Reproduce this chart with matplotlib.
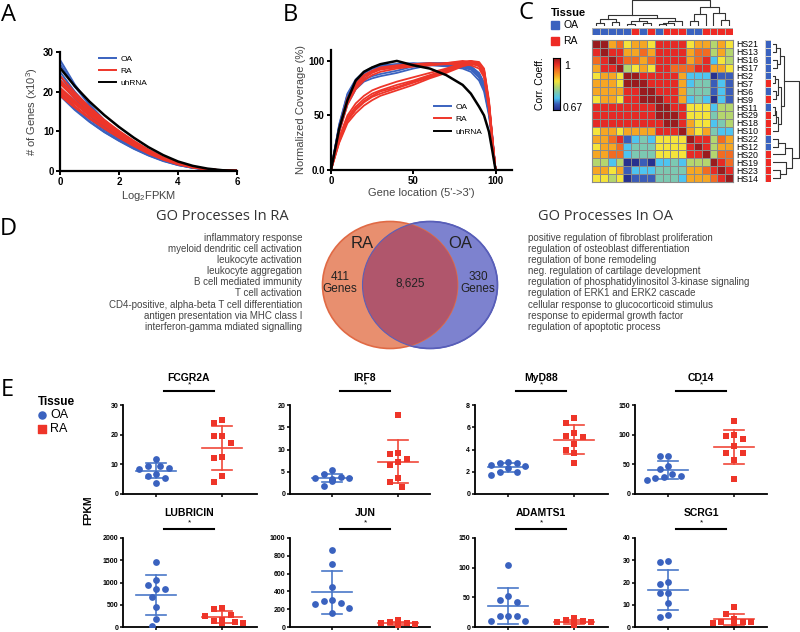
import numpy as np
import matplotlib
matplotlib.use("Agg")
import matplotlib.pyplot as plt
from matplotlib.patches import Ellipse, Rectangle
from matplotlib.lines import Line2D
from matplotlib.colors import ListedColormap, BoundaryNorm, LinearSegmentedColormap

plt.rcParams["font.family"] = ["Liberation Sans", "DejaVu Sans"]
plt.rcParams["mathtext.default"] = "regular"

W, H = 800, 632

OA_BLUE = "#3a62bf"
RA_RED = "#ee3529"

# ---------------- panel A: genes above FPKM threshold
fpkm_x = [0, 0.5, 1, 1.5, 2, 2.5, 3, 3.5, 4, 4.5, 5, 5.5, 6]
oa_genes = [
    [28, 21.8, 16.8, 12.8, 9.6, 6.9, 4.7, 3.0, 1.7, 0.9, 0.4, 0.15, 0.05],
    [27, 21.3, 16.6, 12.8, 9.7, 7.0, 4.8, 3.1, 1.8, 0.9, 0.4, 0.15, 0.05],
    [25, 20.0, 15.8, 12.3, 9.4, 6.9, 4.8, 3.1, 1.8, 0.9, 0.4, 0.15, 0.05],
    [24, 19.2, 15.2, 11.9, 9.1, 6.7, 4.6, 3.0, 1.7, 0.9, 0.4, 0.15, 0.05],
    [22.5, 18.2, 14.6, 11.5, 8.9, 6.6, 4.6, 2.9, 1.7, 0.9, 0.4, 0.15, 0.05],
    [21, 17.2, 13.9, 11.0, 8.6, 6.4, 4.5, 2.9, 1.7, 0.9, 0.4, 0.15, 0.05],
    [20, 16.3, 13.1, 10.4, 8.1, 6.0, 4.2, 2.7, 1.6, 0.8, 0.4, 0.15, 0.05],
    [19.5, 15.7, 12.5, 9.9, 7.7, 5.7, 4.0, 2.6, 1.5, 0.8, 0.4, 0.15, 0.05],
    [19, 15.4, 12.4, 9.8, 7.6, 5.6, 3.9, 2.5, 1.5, 0.8, 0.35, 0.15, 0.05],
]
ra_genes = [
    [24, 19.8, 16.1, 12.9, 10.1, 7.6, 5.3, 3.4, 2.0, 1.0, 0.45, 0.15, 0.05],
    [23, 19.2, 15.8, 12.7, 10.0, 7.5, 5.3, 3.4, 2.0, 1.0, 0.45, 0.15, 0.05],
    [22.5, 18.7, 15.3, 12.3, 9.6, 7.2, 5.1, 3.3, 1.9, 1.0, 0.45, 0.15, 0.05],
    [22, 18.4, 15.1, 12.2, 9.6, 7.2, 5.1, 3.3, 1.9, 1.0, 0.45, 0.15, 0.05],
    [21, 17.7, 14.6, 11.8, 9.3, 7.0, 4.9, 3.2, 1.9, 1.0, 0.45, 0.15, 0.05],
    [20.5, 17.3, 14.3, 11.6, 9.2, 6.9, 4.9, 3.2, 1.9, 1.0, 0.45, 0.15, 0.05],
    [20, 16.9, 14.0, 11.4, 9.0, 6.8, 4.8, 3.1, 1.8, 0.9, 0.4, 0.15, 0.05],
    [19.5, 16.3, 13.4, 10.8, 8.5, 6.4, 4.5, 2.9, 1.7, 0.9, 0.4, 0.15, 0.05],
    [19, 16.0, 13.2, 10.7, 8.4, 6.3, 4.4, 2.9, 1.7, 0.9, 0.4, 0.15, 0.05],
]
uh_genes = [26, 21.4, 17.5, 14.1, 11.1, 8.4, 6.0, 4.0, 2.4, 1.3, 0.6, 0.2, 0.05]

# ---------------- panel B: gene body coverage
loc_x = [0, 5, 10, 15, 20, 25, 30, 40, 50, 60, 70, 80, 85, 90, 93, 96, 98, 100]
oa_cov = [
    [0, 42, 70, 83, 90, 94, 96, 97, 98, 97, 97, 96, 94, 87, 78, 55, 30, 0],
    [0, 40, 68, 82, 89, 93, 95, 97, 97, 98, 97, 95, 93, 85, 75, 52, 28, 0],
    [0, 38, 65, 79, 86, 90, 93, 96, 97, 98, 98, 97, 95, 88, 79, 58, 32, 0],
    [0, 36, 62, 76, 83, 86, 88, 91, 95, 97, 98, 97, 95, 89, 80, 57, 31, 0],
    [0, 35, 60, 74, 81, 84, 86, 89, 93, 96, 97, 96, 94, 88, 78, 54, 29, 0],
    [0, 41, 69, 82, 89, 93, 95, 96, 96, 96, 95, 93, 90, 82, 72, 50, 27, 0],
    [0, 39, 66, 80, 87, 91, 94, 96, 97, 97, 96, 94, 92, 85, 76, 53, 28, 0],
]
ra_cov = [
    [0, 37, 64, 78, 86, 90, 93, 95, 96, 97, 98, 99, 100, 97, 90, 62, 30, 0],
    [0, 36, 62, 76, 84, 89, 92, 94, 95, 96, 98, 100, 99, 96, 88, 60, 28, 0],
    [0, 35, 60, 74, 82, 87, 90, 93, 95, 96, 97, 99, 98, 95, 87, 58, 27, 0],
    [0, 38, 66, 79, 87, 91, 94, 96, 97, 98, 97, 97, 96, 93, 85, 56, 26, 0],
    [0, 28, 48, 58, 65, 70, 73, 78, 82, 87, 92, 97, 99, 98, 92, 62, 30, 0],
    [0, 26, 45, 55, 62, 67, 70, 75, 80, 85, 90, 96, 98, 97, 90, 60, 28, 0],
    [0, 25, 43, 52, 59, 64, 68, 73, 78, 84, 89, 95, 97, 96, 89, 58, 27, 0],
    [0, 30, 50, 61, 68, 73, 76, 81, 85, 89, 93, 98, 100, 99, 93, 64, 31, 0],
    [0, 27, 46, 56, 63, 68, 72, 76, 81, 86, 91, 96, 98, 97, 91, 61, 29, 0],
]
uh_cov = [0, 38, 64, 82, 90, 94, 97, 100, 96, 93, 87, 78, 70, 58, 50, 35, 18, 0]

# ---------------- panel C: sample correlation heatmap
samples = ["HS21", "HS13", "HS16", "HS17", "HS2", "HS7", "HS6", "HS9", "HS11",
           "HS29", "HS18", "HS10", "HS22", "HS12", "HS20", "HS19", "HS23", "HS14"]
sample_tissue = ["OA", "OA", "OA", "OA", "OA", "RA", "OA", "RA", "OA",
                 "RA", "RA", "RA", "OA", "OA", "RA", "RA", "RA", "RA"]
# colour level read per cell (0 = 0.67 ... 9 = 1)
corr_levels = [
    "996756658888566465",
    "898866768888677464",
    "789877678888678254",
    "688945658877788665",
    "566599888886222011",
    "666599988886233121",
    "666688998886333121",
    "566588999886232021",
    "888888889988555244",
    "888888889998555344",
    "888888888998655234",
    "566566668889656322",
    "667812325555988476",
    "566723335555898466",
    "667723335555889477",
    "442400102232444987",
    "665612223333667898",
    "554501113332666789",
]
level_colors = ["#27318f", "#3a5cb8", "#4ec4f0", "#7cc9b2", "#b4d66e",
                "#f5e43a", "#f6a623", "#f26b22", "#e52a25", "#9a1b1e"]
# dendrogram: [height, left, right], leaves are row indices
cluster_tree = [1.0,
                [0.42, [0.26, [0.12, 0, 1], [0.16, 2, 3]],
                 [0.32, [0.18, [0.08, 4, 5], [0.1, 6, 7]],
                  [0.2, [0.12, [0.06, 8, 9], 10], 11]]],
                [0.72, [0.45, [0.2, 12, 13], 14], [0.5, 15, [0.25, 16, 17]]]]

# ---------------- panel D: Venn + GO terms
venn_ra_only, venn_both, venn_oa_only = 411, 8625, 330
go_ra = ["inflammatory response", "myeloid dendritic cell activation",
         "leukocyte activation", "leukocyte aggregation", "B cell mediated immunity",
         "T cell activation", "CD4-positive, alpha-beta T cell differentiation",
         "antigen presentation via MHC class I", "interferon-gamma mdiated signalling"]
go_oa = ["positive regulation of fibroblast proliferation",
         "regulation of osteoblast differentiation", "regulation of bone remodeling",
         "neg. regulation of cartilage development",
         "regulation of phosphatidylinositol 3-kinase signaling",
         "regulation of ERK1 and ERK2 cascade",
         "cellular response to glucocorticoid stimulus",
         "response to epidermal growth factor", "regulation of apoptotic process"]

# ---------------- panel E: FPKM per gene
gene_names = ["FCGR2A", "IRF8", "MyD88", "CD14", "LUBRICIN", "JUN", "ADAMTS1", "SCRG1"]
gene_ymax = [30, 20, 8, 150, 2000, 1000, 150, 40]
gene_ystep = [10, 5, 2, 50, 500, 200, 50, 10]
oa_fpkm = [
    [8.9, 9.6, 11.8, 9.3, 6.8, 5.9, 8.5, 5.5, 3.6],
    [4.5, 3.2, 3.7, 3.8, 5.3, 1.9, 3.0, 3.4, 3.6],
    [2.8, 2.6, 2.5, 2.75, 2.9, 2.0, 1.75, 1.95, 2.3],
    [64, 64, 48, 34, 29, 23, 27, 31, 42],
    [1457, 1057, 936, 860, 853, 679, 453, 189, 15],
    [861, 712, 449, 300, 273, 255, 213, 288, 157],
    [105, 46, 42, 52, 19, 18, 10, 10, 19],
    [29.1, 29.6, 20.4, 19.2, 15.1, 15.5, 10.6, 4.5, 5.3],
]
ra_fpkm = [
    [24.8, 23.8, 19.5, 19.5, 17.1, 12.5, 12.1, 5.9, 4.2],
    [17.8, 9.3, 9.0, 7.9, 7.2, 6.5, 3.5, 2.6, 1.6],
    [6.85, 6.4, 5.5, 5.15, 5.25, 4.45, 4.0, 3.65, 2.75],
    [123, 100, 93, 97, 81, 69, 69, 58, 25],
    [408, 438, 279, 166, 249, 113, 98, 98, 128],
    [75, 56, 45, 40, 35, 30, 28, 25, 22],
    [15, 12, 10, 9, 8, 7, 5, 4, 3],
    [9.1, 6.0, 3.8, 2.0, 2.0, 2.3, 2.0, 2.4, 2.3],
]

fig = plt.figure(figsize=(W / 100, H / 100), dpi=100)


def px_axes(l, t, r, b):
    return fig.add_axes([l / W, 1 - b / H, (r - l) / W, (b - t) / H])


# overlay in pixel coordinates for free text, Venn and legends
ov = px_axes(0, 0, W, H)
ov.set_xlim(0, W)
ov.set_ylim(H, 0)
ov.axis("off")

letter_font = dict(family=["Open Sans", "DejaVu Sans"], fontsize=17, va="center", ha="left")
ov.text(1, 15, "A", **letter_font)
ov.text(283, 15, "B", **letter_font)
ov.text(518, 13, "C", **letter_font)
ov.text(0, 229, "D", **letter_font)
ov.text(1, 390, "E", **letter_font)


def style_line_axes(ax):
    for s in ["top", "right"]:
        ax.spines[s].set_visible(False)
    for s in ["left", "bottom"]:
        ax.spines[s].set_linewidth(1.6)
    ax.tick_params(width=1.4, length=3, labelsize=7, pad=1.5)
    for lab in ax.get_xticklabels() + ax.get_yticklabels():
        lab.set_fontweight("bold")


# ---- A
axA = px_axes(60, 52, 237, 171)
for ys in oa_genes:
    axA.plot(fpkm_x, ys, color=OA_BLUE, lw=1.4)
for ys in ra_genes:
    axA.plot(fpkm_x, ys, color=RA_RED, lw=1.4)
axA.plot(fpkm_x, uh_genes, color="black", lw=1.8)
axA.set_xlim(0, 6)
axA.set_ylim(0, 30)
axA.set_xticks([0, 2, 4, 6])
axA.set_yticks([0, 10, 20, 30])
axA.set_xlabel("Log$_2$FPKM", fontsize=8, color="#444444", labelpad=1)
axA.set_ylabel("# of Genes (x10$^3$)", fontsize=8, color="#444444", labelpad=2)
style_line_axes(axA)
hA = [Line2D([], [], color=OA_BLUE, lw=1.4), Line2D([], [], color=RA_RED, lw=1.4),
      Line2D([], [], color="black", lw=1.4)]
axA.legend(hA, ["OA", "RA", "uhRNA"], loc="upper left", bbox_to_anchor=(0.18, 1.04),
           frameon=False, fontsize=6, handlelength=2.0, labelspacing=0.55, handletextpad=0.5)

# ---- B
axB = px_axes(331, 50, 512, 170)
for ys in oa_cov:
    axB.plot(loc_x, ys, color=OA_BLUE, lw=1.3)
for ys in ra_cov:
    axB.plot(loc_x, ys, color=RA_RED, lw=1.3)
axB.plot(loc_x, uh_cov, color="black", lw=1.8)
axB.set_xlim(0, 110)
axB.set_ylim(0, 110)
axB.set_xticks([0, 50, 100])
axB.set_yticks([0, 50, 100])
axB.set_yticklabels(["0.0", "50", "100"])
axB.set_xlabel("Gene location (5'->3')", fontsize=8, color="#444444", labelpad=1)
axB.set_ylabel("Normalized Coverage (%)", fontsize=8, color="#444444", labelpad=2)
style_line_axes(axB)
axB.legend(hA, ["OA", "RA", "uhRNA"], loc="upper left", bbox_to_anchor=(0.53, 0.62),
           frameon=False, fontsize=6, handlelength=2.0, labelspacing=0.55, handletextpad=0.5)

# ---- C heatmap
levels = np.array([[int(c) for c in row] for row in corr_levels])
n = len(samples)
cmap_lv = ListedColormap(level_colors)
norm_lv = BoundaryNorm(np.arange(-0.5, 10.5, 1), cmap_lv.N)
tissue_idx = np.array([[0 if t == "OA" else 1 for t in sample_tissue]])
tissue_cmap = ListedColormap([OA_BLUE, "#ee2a24"])

axC = px_axes(592, 40, 733, 182)
axC.pcolormesh(levels, cmap=cmap_lv, norm=norm_lv, edgecolors="#8a8a8a", linewidth=0.7)
axC.set_xlim(0, n)
axC.set_ylim(n, 0)
axC.set_xticks([])
axC.yaxis.tick_right()
axC.set_yticks(np.arange(n) + 0.5)
axC.set_yticklabels(samples, fontsize=6.3)
axC.tick_params(length=0, pad=2)
for s in axC.spines.values():
    s.set_color("#8a8a8a")

axCt = px_axes(592, 28, 733, 35)
axCt.pcolormesh(tissue_idx, cmap=tissue_cmap, edgecolors="#b0b0b0", linewidth=0.5)
axCt.set_xlim(0, n)
axCt.axis("off")

axCs = px_axes(765, 40, 771, 182)
axCs.pcolormesh(tissue_idx.T, cmap=tissue_cmap, edgecolors="#d0d0d0", linewidth=0.4)
axCs.set_ylim(n, 0)
axCs.axis("off")


def draw_tree(ax, node, side):
    if isinstance(node, int):
        return node + 0.5, 0.0
    h, left, right = node
    pl, hl = draw_tree(ax, left, side)
    pr, hr = draw_tree(ax, right, side)
    pos = [pl, pl, pr, pr]
    hts = [hl, h, h, hr]
    if side == "top":
        ax.plot(pos, hts, color="#333333", lw=0.8)
    else:
        ax.plot(hts, pos, color="#333333", lw=0.8)
    return (pl + pr) / 2, h


axDt = px_axes(592, 0, 733, 26)
draw_tree(axDt, cluster_tree, "top")
axDt.set_xlim(0, n)
axDt.set_ylim(0, 1.0)
axDt.axis("off")

axDs = px_axes(773, 40, 800, 182)
draw_tree(axDs, cluster_tree, "side")
axDs.set_ylim(n, 0)
axDs.set_xlim(0, 1.02)
axDs.axis("off")

# colour scale
axCb = px_axes(553, 58, 560, 110)
cont_cmap = LinearSegmentedColormap.from_list("corr", level_colors)
axCb.imshow(np.linspace(1, 0, 100)[:, None], aspect="auto", cmap=cont_cmap)
axCb.set_xticks([])
axCb.set_yticks([])
ov.text(564, 66, "1", fontsize=7.5, va="center")
ov.text(563, 108, "0.67", fontsize=7.5, va="center")
ov.text(540, 84, "Corr. Coeff.", fontsize=7.5, rotation=90, va="center", ha="center")

# tissue legend
ov.text(551, 13, "Tissue", fontsize=8, fontweight="bold", va="center")
ov.add_patch(Rectangle((551, 21), 8, 8, color=OA_BLUE))
ov.text(563, 25, "OA", fontsize=7.5, va="center")
ov.add_patch(Rectangle((551, 37), 8, 8, color="#ee2a24"))
ov.text(563, 41, "RA", fontsize=7.5, va="center")

# ---- D Venn
oa_circle = Ellipse((430, 285), 135, 127, facecolor="#7d82cf", edgecolor="#5059b8", lw=1.2)
ra_circle = Ellipse((390, 285), 135, 127, facecolor="#e88f6f", edgecolor="#e06a45", lw=1.2)
ov.add_patch(oa_circle)
ov.add_patch(ra_circle)
overlap = Ellipse((390, 285), 135, 127, facecolor="#b0566c", edgecolor="none")
ov.add_patch(overlap)
overlap.set_clip_path(oa_circle)
ov.add_patch(Ellipse((430, 285), 135, 127, facecolor="none", edgecolor="#5a5fb8", lw=0.8))

ov.text(362, 244, "RA", fontsize=12, ha="center", va="center", color="#222222")
ov.text(460, 244, "OA", fontsize=12, ha="center", va="center", color="#222222")
ov.text(340, 283, f"{venn_ra_only}\nGenes", fontsize=8.5, ha="center", va="center",
        color="#222222", linespacing=1.1)
ov.text(410, 283, f"{venn_both:,}", fontsize=8.5, ha="center", va="center", color="#222222")
ov.text(478, 283, f"{venn_oa_only}\nGenes", fontsize=8.5, ha="center", va="center",
        color="#222222", linespacing=1.1)

title_font = dict(family=["Open Sans", "DejaVu Sans"], fontsize=10.5, va="center",
                  ha="center", color="#333333")
ov.text(222, 216, "GO Processes In RA", **title_font)
ov.text(606, 216, "GO Processes In OA", **title_font)
for k, term in enumerate(go_ra):
    ov.text(302, 238 + k * 11.1, term, fontsize=7, ha="right", va="center", color="#444444")
for k, term in enumerate(go_oa):
    ov.text(528, 238 + k * 11.1, term, fontsize=7, ha="left", va="center", color="#444444")

# ---- E scatter panels
ov.text(38, 402, "Tissue", fontsize=8.5, fontweight="bold", va="center")
ov.scatter([42], [415], s=26, color=OA_BLUE, marker="o")
ov.text(50, 415, "OA", fontsize=9, va="center")
ov.scatter([42], [429], s=26, color=RA_RED, marker="s")
ov.text(50, 429, "RA", fontsize=9, va="center")
ov.text(88, 510, "FPKM", fontsize=7.5, fontweight="bold", rotation=90, ha="center", va="center")

col_px = [(123, 156, 222, 257), (290, 332, 398, 430), (475, 508, 574, 608), (635, 668, 734, 767)]
row_px = [(405, 494, 391, 385, 378), (538, 627, 529, 523, 513)]


def swarm(vals, y_px, diam=8.5):
    vals = np.asarray(vals, float)
    cands = sorted(np.arange(-5, 6) * diam * 0.5, key=abs)
    placed = []
    offs = np.zeros(len(vals))
    for i in np.argsort(-vals):
        y = vals[i] * y_px
        for c in cands:
            if all((c - px) ** 2 + (y - py) ** 2 >= diam ** 2 for px, py in placed):
                offs[i] = c
                break
        placed.append((offs[i], y))
    return offs


groups = [(oa_fpkm, OA_BLUE, "o", "#4a78c8"), (ra_fpkm, RA_RED, "s", "#f0483a")]
for i, name in enumerate(gene_names):
    row, col = divmod(i, 4)
    L, T1, T2, R = col_px[col]
    top, bot, bar_y, star_y, title_y = row_px[row]
    ax = px_axes(L, top, R, bot)
    span = T2 - T1
    ax.set_xlim(1 - (T1 - L) / span, 2 + (R - T2) / span)
    ax.set_ylim(0, gene_ymax[i])
    y_px = (bot - top) / gene_ymax[i]
    for k, (data, colr, mk, lcol) in enumerate(groups):
        vals = np.array(data[i], float)
        xs = k + 1 + swarm(vals, y_px) / span
        ax.scatter(xs, vals, s=24, color=colr, marker=mk, zorder=3, linewidths=0)
        m, sd = vals.mean(), vals.std(ddof=1)
        cx = k + 1
        ax.plot([cx - 0.31, cx + 0.31], [m, m], color=lcol, lw=1.2, zorder=2)
        ax.plot([cx, cx], [m - sd, m + sd], color=lcol, lw=1.2, zorder=2)
        for e in (m - sd, m + sd):
            ax.plot([cx - 0.15, cx + 0.15], [e, e], color=lcol, lw=1.2, zorder=2)
    ax.set_xticks([1, 2])
    ax.set_xticklabels([])
    ax.set_yticks(np.arange(0, gene_ymax[i] + 1e-9, gene_ystep[i]))
    for s in ["top", "right"]:
        ax.spines[s].set_visible(False)
    for s in ["left", "bottom"]:
        ax.spines[s].set_linewidth(1.3)
    ax.tick_params(width=1.1, length=2.5, labelsize=5, pad=1)
    for lab in ax.get_yticklabels():
        lab.set_fontweight("bold")
    # significance bar, asterisk and gene name above the panel
    ov.plot([(T1 + T2) / 2 - 25, (T1 + T2) / 2 + 25], [bar_y, bar_y], color="black", lw=1.5)
    ov.text((T1 + T2) / 2, star_y, "*", fontsize=6, ha="center", va="center")
    ov.text((T1 + T2) / 2, title_y, name, fontsize=7.5, fontweight="bold", ha="center", va="center")

fig.savefig("out.png", dpi=100)
